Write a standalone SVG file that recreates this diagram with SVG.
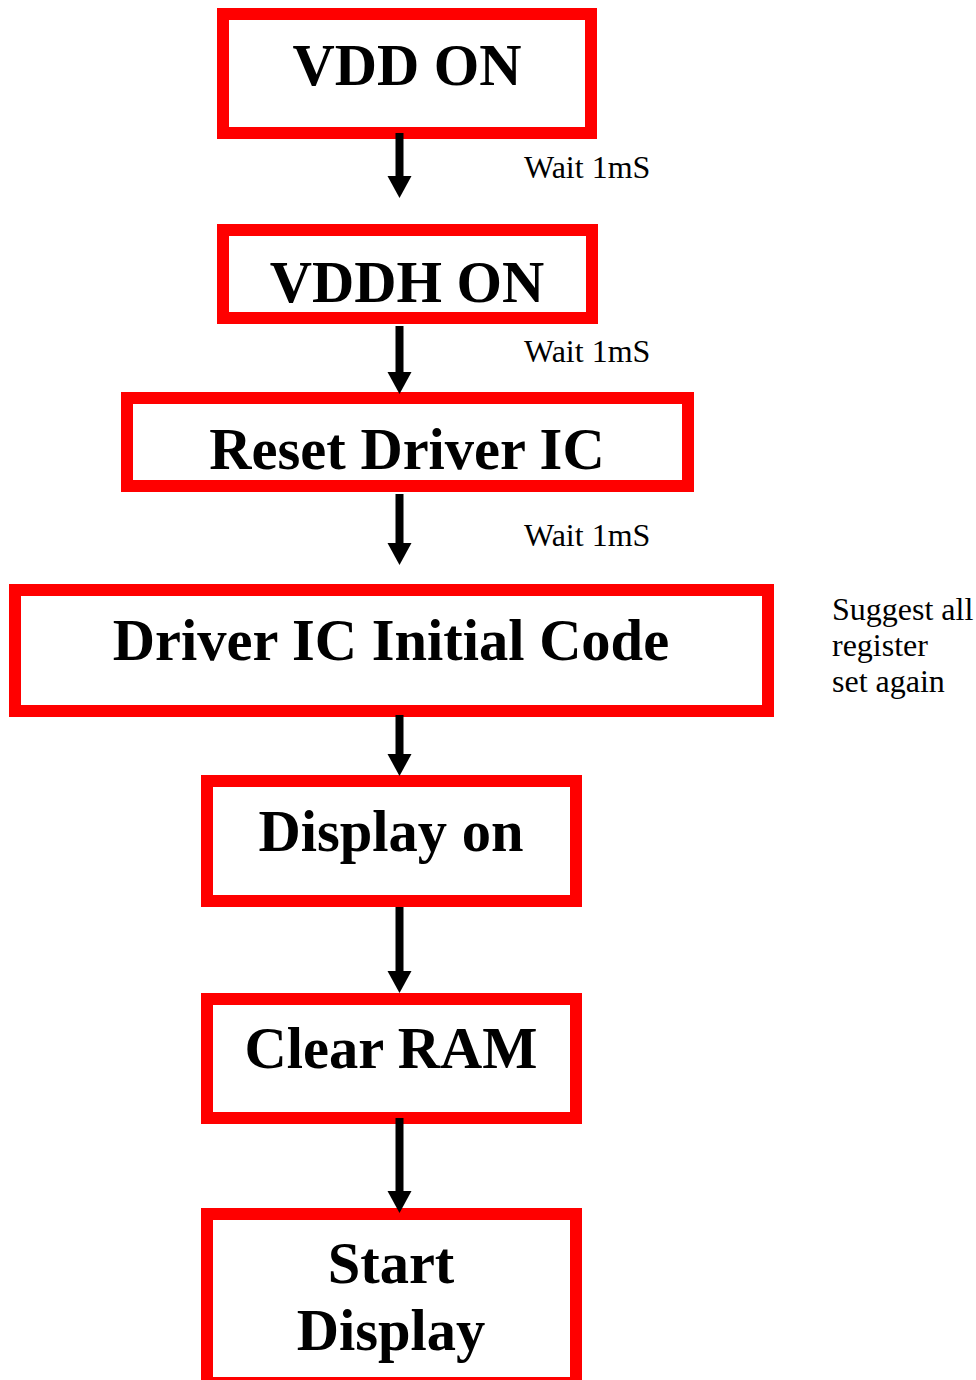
<svg xmlns="http://www.w3.org/2000/svg" width="976" height="1380" viewBox="0 0 976 1380">
  <style>
    .box { fill: #FFFFFF; stroke: #FF0000; stroke-width: 12; }
    .title { font-family: "Liberation Serif", "Times New Roman", serif; font-weight: bold; font-size: 58.5px; fill: #000000; text-anchor: middle; }
    .note { font-family: "Liberation Serif", "Times New Roman", serif; font-size: 32px; fill: #000000; }
    .conn { stroke: #000000; stroke-width: 8; fill: none; marker-end: url(#arrow); }
  </style>
  <defs>
    <marker id="arrow" markerUnits="userSpaceOnUse" markerWidth="22" markerHeight="24" refX="0" refY="12" orient="auto" overflow="visible">
      <path d="M0,0 L22,12 L0,24 Z" fill="#000000"/>
    </marker>
  </defs>
  <rect width="976" height="1380" fill="#FFFFFF"/>

  <g id="node-vdd-on">
    <rect class="box" x="223" y="14" width="368" height="119"/>
    <text class="title" x="407" y="85">VDD ON</text>
  </g>
  <g id="node-vddh-on">
    <rect class="box" x="223" y="230" width="369" height="88"/>
    <text class="title" x="407" y="302">VDDH ON</text>
  </g>
  <g id="node-reset">
    <rect class="box" x="127" y="398" width="561" height="88"/>
    <text class="title" x="407" y="469">Reset Driver IC</text>
  </g>
  <g id="node-init">
    <rect class="box" x="15" y="590" width="753" height="121"/>
    <text class="title" x="391" y="660">Driver IC Initial Code</text>
  </g>
  <g id="node-display-on">
    <rect class="box" x="207" y="781" width="369" height="120"/>
    <text class="title" x="391" y="851">Display on</text>
  </g>
  <g id="node-clear-ram">
    <rect class="box" x="207" y="999" width="369" height="119"/>
    <text class="title" x="391" y="1068">Clear RAM</text>
  </g>
  <g id="node-start-display">
    <rect class="box" x="207" y="1214" width="369" height="169"/>
    <text class="title" x="391" y="1283">Start</text>
    <text class="title" x="391" y="1350">Display</text>
  </g>

  <g id="notes">
    <text class="note" x="524" y="178">Wait 1mS</text>
    <text class="note" x="524" y="362">Wait 1mS</text>
    <text class="note" x="524" y="546">Wait 1mS</text>
    <text class="note" x="832" y="620">Suggest all</text>
    <text class="note" x="832" y="656">register</text>
    <text class="note" x="832" y="692">set again</text>
  </g>

  <g id="connectors">
    <line class="conn" x1="399.5" y1="133" x2="399.5" y2="176"/>
    <line class="conn" x1="399.5" y1="326" x2="399.5" y2="372"/>
    <line class="conn" x1="399.5" y1="494" x2="399.5" y2="543"/>
    <line class="conn" x1="399.5" y1="715" x2="399.5" y2="754"/>
    <line class="conn" x1="399.5" y1="907" x2="399.5" y2="971"/>
    <line class="conn" x1="399.5" y1="1118" x2="399.5" y2="1191"/>
  </g>
</svg>
